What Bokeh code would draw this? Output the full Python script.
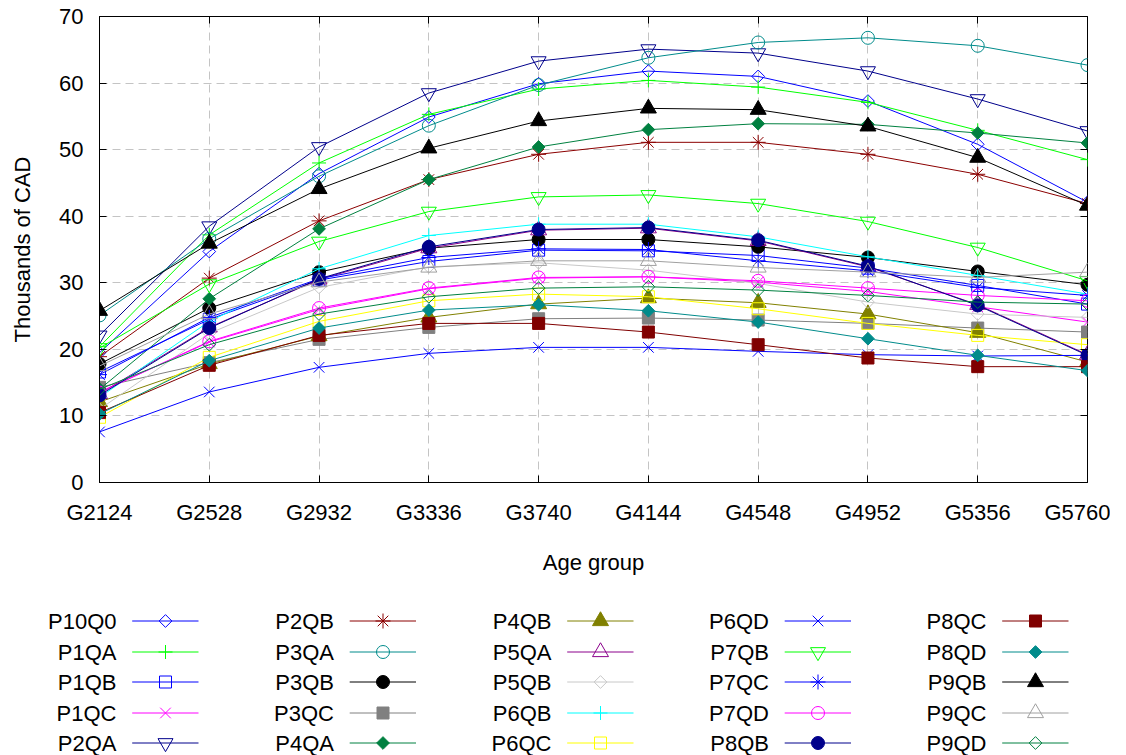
import math
from bokeh.plotting import figure
from bokeh.models import Range1d, LinearAxis, FixedTicker, CustomJSTickFormatter
from bokeh.core.properties import value
from bokeh.embed import file_html
from bokeh.resources import INLINE

# ---------------- data ----------------
groups = ["G2124", "G2528", "G2932", "G3336", "G3740", "G4144", "G4548", "G4952", "G5356", "G5760"]

P10Q0 = [19.5, 34.7, 46.4, 54.9, 59.9, 61.8, 61.0, 57.3, 50.8, 42.1]
P1QA = [20.4, 37.2, 48.0, 55.3, 59.1, 60.4, 59.4, 57.1, 52.9, 48.5]
P1QB = [16.6, 24.5, 30.4, 33.2, 34.9, 34.8, 34.1, 32.2, 29.6, 26.8]
P1QC = [13.6, 21.1, 26.0, 29.1, 30.7, 30.9, 30.1, 28.7, 26.4, 24.1]
P2QA = [22.1, 38.5, 50.4, 58.5, 63.3, 65.1, 64.5, 61.8, 57.6, 52.8]
P2QB = [18.9, 30.7, 39.3, 45.5, 49.3, 51.1, 51.1, 49.3, 46.3, 41.9]
P3QA = [25.1, 36.6, 46.0, 53.6, 59.7, 63.8, 66.1, 66.8, 65.6, 62.7]
P3QB = [17.8, 26.2, 31.6, 35.2, 36.5, 36.5, 35.4, 33.8, 31.7, 29.7]
P3QC = [14.3, 18.0, 21.5, 23.3, 24.6, 24.7, 24.4, 23.9, 23.2, 22.6]
P4QA = [14.0, 27.6, 38.1, 45.5, 50.4, 53.0, 53.9, 53.8, 52.5, 51.0]
P4QB = [12.1, 17.8, 22.0, 24.8, 26.8, 27.7, 27.0, 25.3, 22.5, 18.1]
P5QA = [13.3, 23.3, 30.5, 35.2, 37.9, 38.2, 36.3, 32.4, 26.7, 19.2]
P5QB = [11.0, 22.4, 29.3, 32.4, 33.0, 31.9, 29.9, 27.1, 25.3, 24.8]
P6QB = [12.8, 24.2, 32.1, 37.1, 38.8, 38.8, 36.9, 33.9, 31.1, 28.3]
P6QC = [9.8, 18.8, 24.2, 27.3, 28.3, 27.9, 26.1, 23.9, 22.1, 20.7]
P6QD = [7.6, 13.6, 17.3, 19.4, 20.3, 20.3, 19.7, 19.2, 19.0, 19.1]
P7QB = [20.2, 29.8, 36.2, 40.7, 42.9, 43.2, 41.9, 39.2, 35.3, 30.3]
P7QC = [16.2, 24.8, 30.6, 33.8, 35.1, 35.0, 33.3, 31.8, 29.3, 28.1]
P7QD = [13.5, 21.2, 26.2, 29.2, 30.8, 30.9, 30.3, 29.2, 28.1, 27.3]
P8QB = [13.1, 23.2, 30.6, 35.4, 38.0, 38.3, 36.4, 32.5, 26.6, 19.1]
P8QC = [10.5, 17.6, 22.1, 23.9, 23.9, 22.6, 20.7, 18.7, 17.4, 17.4]
P8QD = [10.3, 18.3, 23.2, 25.9, 26.7, 25.8, 24.1, 21.6, 19.1, 16.8]
P9QB = [25.8, 35.9, 44.1, 50.2, 54.3, 56.2, 56.0, 53.5, 48.8, 41.6]
P9QC = [17.5, 25.3, 30.1, 32.3, 33.3, 33.3, 32.3, 31.6, 30.8, 31.6]
P9QD = [14.0, 20.7, 25.3, 27.9, 29.2, 29.4, 28.9, 28.1, 27.1, 26.8]

series_names = ["P10Q0", "P1QA", "P1QB", "P1QC", "P2QA", "P2QB", "P3QA", "P3QB", "P3QC",
                "P4QA", "P4QB", "P5QA", "P5QB", "P6QB", "P6QC", "P6QD", "P7QB", "P7QC",
                "P7QD", "P8QB", "P8QC", "P8QD", "P9QB", "P9QC", "P9QD"]
series_values = [P10Q0, P1QA, P1QB, P1QC, P2QA, P2QB, P3QA, P3QB, P3QC,
                 P4QA, P4QB, P5QA, P5QB, P6QB, P6QC, P6QD, P7QB, P7QC,
                 P7QD, P8QB, P8QC, P8QD, P9QB, P9QC, P9QD]

# ---------------- styles ----------------
colors = ["#0000ff", "#00ff00", "#0000ff", "#ff00ff", "#00008b", "#8b0000", "#008b8b", "#000000", "#808080",
          "#008040", "#808000", "#8b008b", "#c8c8c8", "#00ffff", "#ffff00", "#0000ff", "#00ff00", "#0000ff",
          "#ff00ff", "#00008b", "#800000", "#008b8b", "#000000", "#a0a0a0", "#008040"]
# (marker, filled, size, angle)
mk = {
    "odiamond": ("square", False, 9, math.pi / 4),
    "fdiamond": ("square", True, 9, math.pi / 4),
    "plus": ("cross", False, 14, 0),
    "osquare": ("square", False, 12, 0),
    "fsquare": ("square", True, 12, 0),
    "x": ("x", False, 15, 0),
    "otridown": ("inverted_triangle", False, 15, 0),
    "star": ("asterisk", False, 15, 0),
    "ocircle": ("circle", False, 13, 0),
    "fcircle": ("circle", True, 13, 0),
    "ftri": ("triangle", True, 16, 0),
    "otri": ("triangle", False, 16, 0),
}
markers = ["odiamond", "plus", "osquare", "x", "otridown", "star", "ocircle", "fcircle", "fsquare",
           "fdiamond", "ftri", "otri", "odiamond", "plus", "osquare", "x", "otridown", "star",
           "ocircle", "fcircle", "fsquare", "fdiamond", "ftri", "otri", "odiamond"]

FONT = "Liberation Sans"
FS = "22px"
xs = list(range(len(groups)))

W = 1110
MAIN_H = 598
LEG_H = 157

# ---------------- main plot ----------------
p = figure(width=W, height=MAIN_H, x_range=Range1d(0, len(groups) - 1), y_range=Range1d(0, 70),
           output_backend="svg", toolbar_location=None,
           min_border_left=99, min_border_right=23, min_border_top=16, min_border_bottom=MAIN_H - 482)
p.background_fill_color = "white"
p.border_fill_color = "white"
p.outline_line_color = "black"
p.outline_line_width = 1

p.xaxis.ticker = FixedTicker(ticks=xs)
p.xaxis.major_label_overrides = {i: g for i, g in enumerate(groups)}
p.yaxis.ticker = FixedTicker(ticks=list(range(0, 71, 10)))
for ax in (p.xaxis[0], p.yaxis[0]):
    ax.major_label_text_font = FONT
    ax.major_label_text_font_size = FS
    ax.major_label_text_color = "black"
    ax.axis_label_text_font = FONT
    ax.axis_label_text_font_size = FS
    ax.axis_label_text_font_style = "normal"
    ax.axis_label_text_color = "black"
    ax.major_tick_in = 7
    ax.major_tick_out = 0
    ax.minor_tick_in = 0
    ax.minor_tick_out = 0
    ax.major_tick_line_color = "black"
    ax.axis_line_color = "black"
p.xaxis.axis_label = "Age group"
p.yaxis.axis_label = "Thousands of CAD"
p.xaxis.major_label_standoff = 17
p.yaxis.major_label_standoff = 16
p.xaxis.axis_label_standoff = 22
p.yaxis.axis_label_standoff = 21

# mirrored tick marks
blank = CustomJSTickFormatter(code="return ''")
right_ax = LinearAxis(ticker=FixedTicker(ticks=list(range(0, 71, 10))), formatter=blank,
                      major_tick_in=7, major_tick_out=0, minor_tick_in=0, minor_tick_out=0,
                      major_label_standoff=0, axis_line_color=None, major_tick_line_color="black",
                      major_label_text_font_size="1px")
top_ax = LinearAxis(ticker=FixedTicker(ticks=xs), formatter=blank,
                    major_tick_in=7, major_tick_out=0, minor_tick_in=0, minor_tick_out=0,
                    major_label_standoff=0, axis_line_color=None, major_tick_line_color="black",
                    major_label_text_font_size="1px")
p.add_layout(right_ax, "right")
p.add_layout(top_ax, "above")

for g in (p.xgrid[0], p.ygrid[0]):
    g.grid_line_color = "#c4c4c4"
    g.grid_line_dash = "8 5"
    g.grid_line_width = 1

for name, vals, col, m in zip(series_names, series_values, colors, markers):
    shape, filled, size, ang = mk[m]
    p.line(xs, vals, line_color=col, line_width=1)
    p.scatter(xs, vals, marker=shape, size=size, angle=ang, line_color=col, line_width=1,
              fill_color=col if filled else None)

# ---------------- legend (separate root, page-pixel coordinates) ----------------
leg = figure(width=W, height=LEG_H, x_range=Range1d(0, W), y_range=Range1d(MAIN_H + LEG_H, MAIN_H),
             output_backend="svg", toolbar_location=None, x_axis_location=None, y_axis_location=None,
             min_border_left=0, min_border_right=0, min_border_top=0, min_border_bottom=0)
leg.grid.visible = False
leg.outline_line_color = None
leg.background_fill_color = "white"
leg.border_fill_color = "white"

COL_W = 217.5
ROW_H = 30.5
for k, (name, col, m) in enumerate(zip(series_names, colors, markers)):
    c, r = divmod(k, 5)
    yy = math.floor(620.5 + r * ROW_H) + 0.5  # pixel-centred rows keep 1px lines crisp
    x0 = 131.7 + c * COL_W
    leg.text([116 + c * COL_W], [yy], text=[name], text_align="right", text_baseline="middle",
             text_font=value(FONT), text_font_size=FS, text_color="black")
    leg.line([x0, x0 + 66.3], [yy, yy], line_color=col, line_width=1)
    shape, filled, size, ang = mk[m]
    leg.scatter([x0 + 33.3], [yy], marker=shape, size=size, angle=ang, line_color=col, line_width=1,
                fill_color=col if filled else None)

open("out.html", "w").write(file_html([p, leg], INLINE))
